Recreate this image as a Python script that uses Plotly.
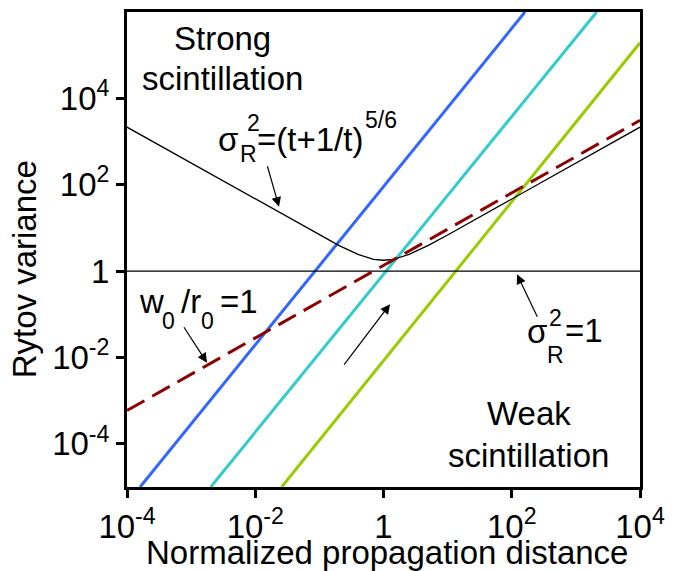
import plotly.graph_objects as go

# ---------------- data ----------------
t_curve = [1e-4, 1e-3, 1e-2, 0.03, 0.1, 0.2, 0.4, 0.7, 1, 1.43, 2.5, 5, 10, 33.3, 100, 1000, 1e4]
sigma_curve = [2154, 316.2, 46.42, 18.59, 6.867, 3.95, 2.43, 1.877, 1.782,
               1.877, 2.43, 3.95, 6.867, 18.59, 46.42, 316.2, 2154]

w0r0_x = [1e-4, 1e4]
w0r0_y = [5.9e-4, 3.1e3]

unity_x = [1e-4, 1e4]
unity_y = [1, 1]

blue_x = [1.6e-4, 161]
blue_y = [1e-5, 1e6]
cyan_x = [2.02e-3, 2113]
cyan_y = [1e-5, 1e6]
green_x = [0.0258, 1e4]
green_y = [1e-5, 1.94e5]

tick_vals = [1e-4, 1e-2, 1, 1e2, 1e4]
tick_text = ["10<sup>-4</sup>", "10<sup>-2</sup>", "1", "10<sup>2</sup>", "10<sup>4</sup>"]

FONT = "Liberation Sans, Arial, sans-serif"

fig = go.Figure()
fig.add_trace(go.Scatter(x=blue_x, y=blue_y, mode="lines", line=dict(color="#3366ff", width=3)))
fig.add_trace(go.Scatter(x=cyan_x, y=cyan_y, mode="lines", line=dict(color="#33cccc", width=3)))
fig.add_trace(go.Scatter(x=green_x, y=green_y, mode="lines", line=dict(color="#99cc00", width=3)))
fig.add_trace(go.Scatter(x=unity_x, y=unity_y, mode="lines", line=dict(color="black", width=1.3)))
fig.add_trace(go.Scatter(x=t_curve, y=sigma_curve, mode="lines", line=dict(color="black", width=1.3)))
fig.add_trace(go.Scatter(x=w0r0_x, y=w0r0_y, mode="lines",
                         line=dict(color="#8b0000", width=3, dash="20px,9px")))

# plot area in pixels: x 127..640, y 9..487
L, R, T, B = 127, 640, 9, 487
W, H = R - L, B - T


def P(px, py):
    return (px - L) / W, 1 - (py - T) / H


ann = []


def txt(s, px, py, size=33, xanchor="left", angle=0):
    x, y = P(px, py)
    ann.append(dict(text=s, x=x, y=y, xref="paper", yref="paper", xanchor=xanchor,
                    yanchor="middle", showarrow=False, textangle=angle,
                    font=dict(size=size, family=FONT, color="black")))


def arrow(hx, hy, tx, ty):
    x, y = P(hx, hy)
    ann.append(dict(text="", x=x, y=y, xref="paper", yref="paper", showarrow=True,
                    ax=tx - hx, ay=ty - hy, axref="pixel", ayref="pixel",
                    arrowhead=2, arrowsize=1.6, arrowwidth=1.2, arrowcolor="black"))


SM = 23
# region labels
txt("Strong", 222.5, 35.4, xanchor="center")
txt("scintillation", 222, 76.4, xanchor="center")
txt("Weak", 529, 413.4, xanchor="center")
txt("scintillation", 528, 455.4, xanchor="center")

# sigma_R^2 = (t+1/t)^(5/6)
txt("σ", 215.5, 137.5)
txt("2", 253, 121, size=SM, xanchor="center")
txt("R", 248.5, 152, size=SM, xanchor="center")
txt("=(t+1/t)", 255, 137.5)
txt("5/6", 363, 117.5, size=SM)

# w0/r0 = 1
txt("w", 136.5, 300)
txt("0", 168, 320, size=SM, xanchor="center")
txt("/r", 179, 300)
txt("0", 207.7, 320, size=SM, xanchor="center")
txt("=1", 218, 300)

# sigma_R^2 = 1
txt("σ", 524.5, 331)
txt("2", 555, 317, size=SM, xanchor="center")
txt("R", 555, 354, size=SM, xanchor="center")
txt("=1", 563, 330)

# axis titles
txt("Normalized propagation distance", 386.5, 553, xanchor="center")
txt("Rytov variance", 24, 268, xanchor="center", angle=-90)

# arrows
arrow(279, 205, 267, 163)
arrow(207, 362, 183, 325)
arrow(517, 273, 538, 317)
arrow(390, 303, 343, 365)

axis_common = dict(type="log", showgrid=False, zeroline=False, showline=True, mirror=True,
                   linecolor="black", linewidth=3, ticks="outside", ticklen=8, tickwidth=3,
                   tickcolor="black", tickvals=tick_vals, ticktext=tick_text,
                   tickfont=dict(size=33, family=FONT, color="black"))

fig.update_layout(
    width=679, height=571,
    margin=dict(l=L, r=679 - R, t=T, b=571 - B),
    paper_bgcolor="white", plot_bgcolor="white",
    showlegend=False,
    font=dict(family=FONT, color="black"),
    xaxis=dict(range=[-4, 4], **axis_common),
    yaxis=dict(range=[-5, 6], **axis_common),
    annotations=ann,
)

fig.write_html("out.html")
